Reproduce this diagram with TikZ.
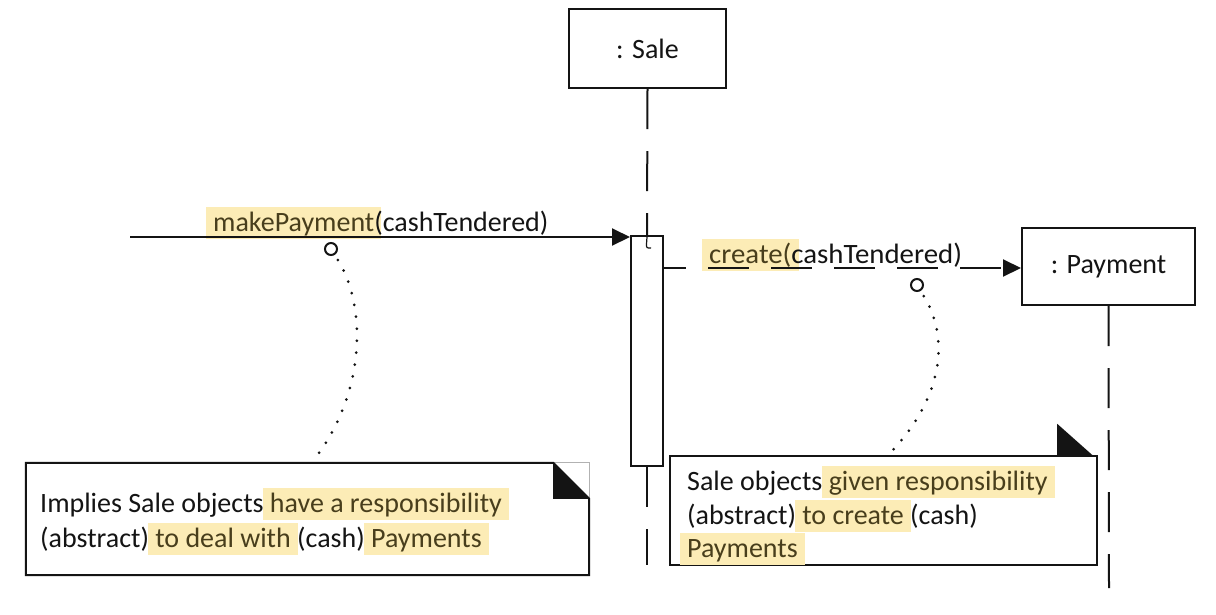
\documentclass[tikz,border=0pt]{standalone}
\usepackage{fontspec}
\setmainfont{Carlito}
\usetikzlibrary{arrows.meta,calc}
\definecolor{hly}{RGB}{252,236,182}
\definecolor{hltext}{RGB}{72,62,28}
\definecolor{ink}{RGB}{20,20,20}
\newcommand\hlt[1]{\setbox0\hbox{#1}\rlap{\hspace{-0.25em}\textcolor{hly}{\rule[-0.3em]{\dimexpr\wd0+0.5em\relax}{1.15em}}}\textcolor{hltext}{#1}}
\begin{document}
\begin{tikzpicture}[x=1pt,y=-1pt,
  font=\fontsize{28}{34}\selectfont,
  obj/.style={draw=ink, line width=2pt, inner sep=0pt, text=ink},
  lifeline/.style={draw=ink, line width=2pt, dash pattern=on 40pt off 22pt},
  msg/.style={draw=ink, line width=2pt, -{Triangle[length=18pt,width=17pt]}},
  dotline/.style={draw=ink, line width=3pt, line cap=round, dash pattern=on 0pt off 12pt, dash phase=6pt},
  knob/.style={circle, draw=ink, line width=2pt, minimum size=12pt, inner sep=0pt},
  lbl/.style={anchor=base west, inner sep=0pt, text=ink},
  notebox/.style={draw=none, inner sep=0pt}]
\fill[white] (0,0) rectangle (1216,614);
\useasboundingbox (0,0) rectangle (1216,614);

% objects
\node[obj, minimum width=157pt, minimum height=79pt] (sale) at (647.5,48.5) {: Sale};
\node[obj, minimum width=173pt, minimum height=77pt] (pay) at (1108.5,266.5) {: Payment};
\node[obj, minimum width=32pt, minimum height=230pt, fill=white] (act) at (647,351) {};

% lifelines
\coordinate (saleend) at (647,565);
\coordinate (payend) at (1109,588);
\draw[lifeline] (sale.south) -- (act.north);
\draw[lifeline] (act.south) -- (saleend);
\draw[lifeline] (pay.south) -- (payend);
\draw[ink, line width=1.2pt] (647,237) -- (646.5,244) .. controls (646.5,248) .. (651,248);

% message labels
\node[lbl] (m1lbl) at (213,231) {\hlt{makePayment}(cashTendered)};
\node[lbl, xscale=1.03] (m2lbl) at (709,263) {\hlt{create(}cashTendered)};

% messages
\coordinate (in0) at (130,237);
\draw[msg] (in0) -- (in0 -| act.west);
\coordinate (cm0) at (663,268);
\draw[msg, dash pattern=on 41pt off 22pt, dash phase=18pt] (cm0) -- (cm0 -| pay.west);

% notes
\node[notebox, minimum width=563pt, minimum height=112pt] (note1) at (307.5,519) {};
\node[notebox, minimum width=427pt, minimum height=109pt] (note2) at (883.5,510.5) {};

\draw[gray!60, line width=0.8pt] ($(note1.north east)+(-36,0)$) -- (note1.north east) -- ($(note1.north east)+(0,36)$);
\draw[ink, line width=2pt, line join=miter] (note1.north west) -- ($(note1.north east)+(-36,0)$) -- ($(note1.north east)+(0,36)$) -- (note1.south east) -- (note1.south west) -- cycle;
\fill[ink] ($(note1.north east)+(-36,0)$) -- ($(note1.north east)+(0,36)$) -- ($(note1.north east)+(-36,36)$) -- cycle;

\draw[ink, line width=2pt] (note2.north west) rectangle (note2.south east);
\fill[ink] ($(note2.north east)+(-40,-32)$) -- ($(note2.north east)+(-40,0)$) -- ($(note2.north east)+(-4,0)$) -- cycle;

\node[lbl] (n1a) at (40,512) {Implies Sale objects \hlt{have a responsibility}};
\node[lbl] (n1b) at (40,547) {(abstract) \hlt{to deal with} (cash) \hlt{Payments}};
\node[lbl] (n2a) at (687,490) {Sale objects \hlt{given responsibility}};
\node[lbl] (n2b) at (687,524) {(abstract) \hlt{to create} (cash)};
\node[lbl] (n2c) at (687,557) {\hlt{Payments}};

% anchors and dotted links
\node[knob] (c1) at (331,249) {};
\node[knob] (c2) at (917,285) {};
\coordinate (n1top) at (316,457);
\coordinate (n2top) at (893,450);
\draw[dotline] (c1.-60) .. controls (367,300) and (367,390) .. (n1top);
\draw[dotline] (c2.-60) .. controls (948,330) and (948,390) .. (n2top);
\end{tikzpicture}
\end{document}
